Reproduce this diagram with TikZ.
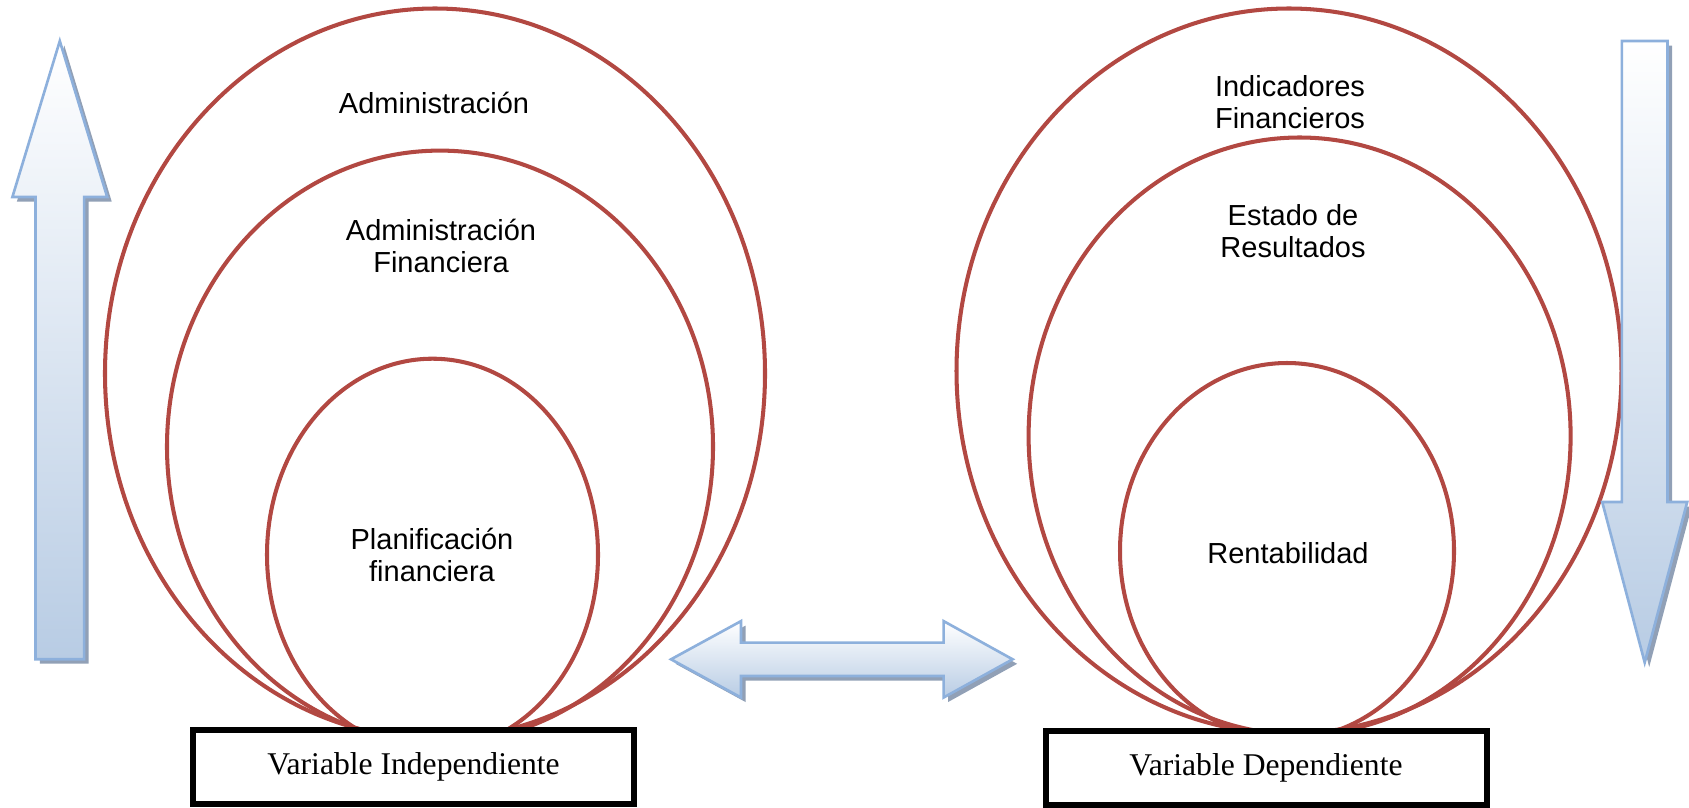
\documentclass[tikz,border=0pt]{standalone}
\usepackage{fontspec}
\setmainfont{Liberation Serif}
\newfontfamily\arialfont{Liberation Sans}
\usetikzlibrary{shapes.geometric,shadows}
\definecolor{ringred}{RGB}{178,72,66}
\definecolor{arrowline}{RGB}{141,176,220}
\definecolor{arrowblue}{RGB}{184,204,228}
\definecolor{arrowshadow}{RGB}{145,160,182}
\tikzset{
  ring/.style={ellipse, draw=ringred, line width=1.15pt, inner sep=0pt},
  ringtext/.style={font=\arialfont\fontsize{8.25}{9.1}\selectfont, align=center},
  varbox/.style={draw=black, line width=1.7pt, fill=white, minimum width=4.41cm,
    minimum height=0.74cm, inner sep=0pt, font=\fontsize{9}{10}\selectfont},
  blockarrow/.style={draw=arrowline, line width=0.75pt, top color=white, bottom color=arrowblue,
    drop shadow={shadow xshift=0.045cm, shadow yshift=-0.045cm, fill=arrowshadow, opacity=1}}
}
\begin{document}
\begin{tikzpicture}
\useasboundingbox (0,0) rectangle (16.89,8.07);

% independent side
\node [ring, minimum width=6.60cm, minimum height=7.30cm] (admin) at (4.35,4.335) {};
\node [ring, minimum width=5.46cm, minimum height=5.92cm] (adminfin) at (4.40,3.604) {};
\node [ring, minimum width=3.31cm, minimum height=3.92cm] (plan) at (4.325,2.523) {};
\node [ringtext] (admintext) at (4.34,7.04) {Administración};
\node [ringtext] (adminfintext) at (4.41,5.61) {Administración\\Financiera};
\node [ringtext] (plantext) at (4.32,2.52) {Planificación\\financiera};

% dependent side
\node [ring, minimum width=6.65cm, minimum height=7.25cm] (indic) at (12.89,4.36) {};
\node [ring, minimum width=5.42cm, minimum height=5.97cm] (estado) at (12.996,3.71) {};
\node [ring, minimum width=3.34cm, minimum height=3.76cm] (rent) at (12.87,2.56) {};
\node [ringtext] (indictext) at (12.90,7.05) {Indicadores\\Financieros};
\node [ringtext] (estadotext) at (12.93,5.76) {Estado de\\Resultados};
\node [ringtext] (renttext) at (12.88,2.54) {Rentabilidad};

% variable boxes
\node [varbox] (indep) at (4.135,0.40) {Variable Independiente};
\node [varbox] (dep) at (12.66,0.395) {Variable Dependiente};

% block arrows
\draw [blockarrow] (0.355,1.478)--(0.355,6.10)--(0.124,6.10)--(0.598,7.66)--(1.072,6.10)
  --(0.841,6.10)--(0.841,1.478)--cycle;
\draw [blockarrow] (16.219,7.66)--(16.219,3.05)--(16.022,3.05)--(16.447,1.445)--(16.872,3.05)
  --(16.675,3.05)--(16.675,7.66)--cycle;
\draw [blockarrow] (6.71,1.477)--(7.41,1.859)--(7.41,1.644)--(9.436,1.644)--(9.436,1.859)
  --(10.126,1.477)--(9.436,1.095)--(9.436,1.310)--(7.41,1.310)--(7.41,1.095)--cycle;
\end{tikzpicture}
\end{document}
